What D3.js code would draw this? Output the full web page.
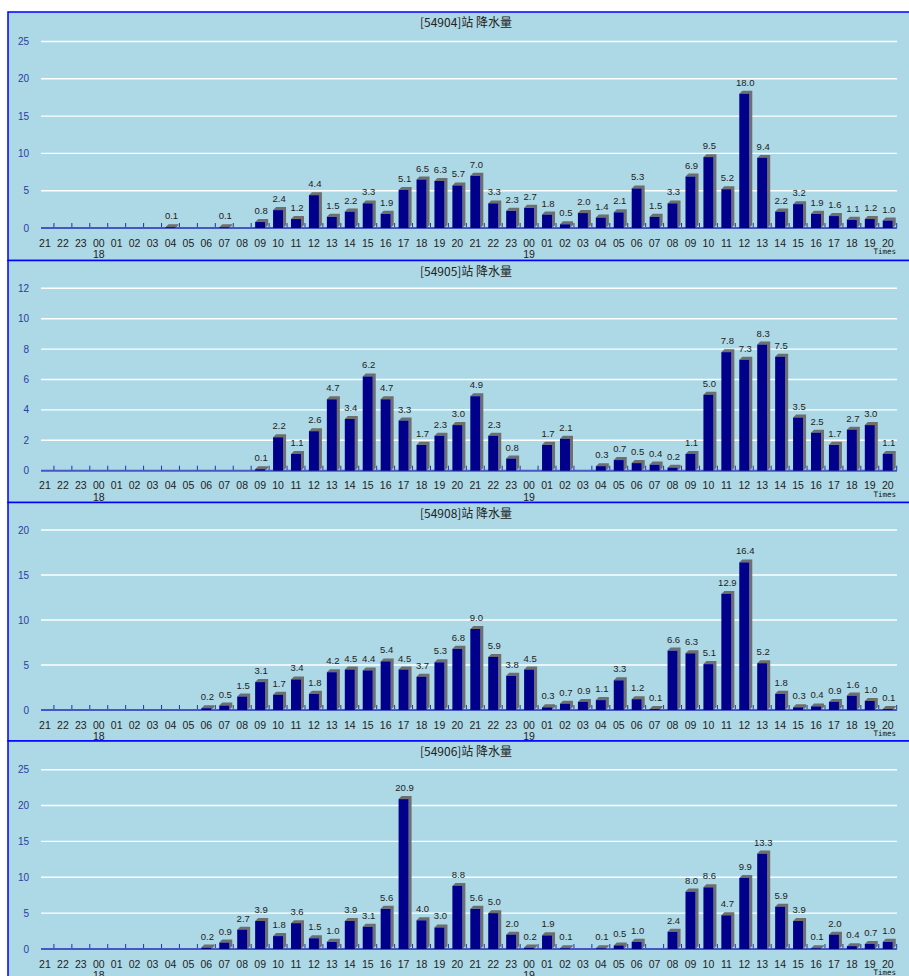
<!DOCTYPE html>
<html>
<head>
<meta charset="utf-8">
<script src="https://cdn.jsdelivr.net/npm/d3@7/dist/d3.min.js"></script>
<style>
  html, body { margin: 0; padding: 0; background: #ffffff; }
  svg { display: block; }
</style>
</head>
<body>
<script>
// Hourly precipitation at four stations, 17th 21h through 19th 20h.
const hours = ["21","22","23",
  "00","01","02","03","04","05","06","07","08","09","10","11",
  "12","13","14","15","16","17","18","19","20","21","22","23",
  "00","01","02","03","04","05","06","07","08","09","10","11",
  "12","13","14","15","16","17","18","19","20"];
const dayLabels = ["18", "19"];           // shown under each "00"

const stations = ["54904", "54905", "54908", "54906"];
const yMaxes  = [25, 12, 20, 25];
const yStepsV = [5, 2, 5, 5];

const rain54904 = [null,null,null,null,null,null,null,0.1,null,null,0.1,null,
  0.8,2.4,1.2,4.4,1.5,2.2,3.3,1.9,5.1,6.5,6.3,5.7,7.0,3.3,2.3,
  2.7,1.8,0.5,2.0,1.4,2.1,5.3,1.5,3.3,6.9,9.5,5.2,18.0,9.4,2.2,3.2,1.9,1.6,1.1,1.2,1.0];
const rain54905 = [null,null,null,null,null,null,null,null,null,null,null,null,
  0.1,2.2,1.1,2.6,4.7,3.4,6.2,4.7,3.3,1.7,2.3,3.0,4.9,2.3,0.8,
  null,1.7,2.1,null,0.3,0.7,0.5,0.4,0.2,1.1,5.0,7.8,7.3,8.3,7.5,3.5,2.5,1.7,2.7,3.0,1.1];
const rain54908 = [null,null,null,null,null,null,null,null,null,0.2,0.5,1.5,
  3.1,1.7,3.4,1.8,4.2,4.5,4.4,5.4,4.5,3.7,5.3,6.8,9.0,5.9,3.8,
  4.5,0.3,0.7,0.9,1.1,3.3,1.2,0.1,6.6,6.3,5.1,12.9,16.4,5.2,1.8,0.3,0.4,0.9,1.6,1.0,0.1];
const rain54906 = [null,null,null,null,null,null,null,null,null,0.2,0.9,2.7,
  3.9,1.8,3.6,1.5,1.0,3.9,3.1,5.6,20.9,4.0,3.0,8.8,5.6,5.0,2.0,
  0.2,1.9,0.1,null,0.1,0.5,1.0,null,2.4,8.0,8.6,4.7,9.9,13.3,5.9,3.9,0.1,2.0,0.4,0.7,1.0];
const seriesList = [rain54904, rain54905, rain54908, rain54906];

// Panel frames: top edge, top gridline and zero line (page pixels)
const frames = [
  { top: 12,    bottom: 260.5, gridTop: 41.5,  zero: 228 },
  { top: 260.5, bottom: 502.5, gridTop: 288.3, zero: 470.7 },
  { top: 502.5, bottom: 741,   gridTop: 530,   zero: 710 },
  { top: 741,   bottom: 990,   gridTop: 769.7, zero: 949 }
];

const W = 909, H = 976;
const svg = d3.select("body").append("svg").attr("width", W).attr("height", H);

const x = d3.scaleBand().domain(d3.range(hours.length)).range([36, 896.7]).padding(0);
const barW = 10, depth = 3;

const sansFont = "'Liberation Sans', Arial, sans-serif";
const cjkFont = "'Noto Sans CJK SC', 'Noto Sans', sans-serif";

stations.forEach((st, p) => {
  const f = frames[p];
  const data = seriesList[p];
  const g = svg.append("g");

  g.append("rect")
    .attr("x", 8).attr("y", f.top)
    .attr("width", 930).attr("height", f.bottom - f.top)
    .attr("fill", "#add8e6")
    .attr("stroke", "#0000ff").attr("stroke-width", 1.5);

  const y = d3.scaleLinear().domain([0, yMaxes[p]]).range([f.zero, f.gridTop]);
  const ticks = d3.range(0, yMaxes[p] + 0.001, yStepsV[p]);

  // horizontal gridlines
  g.selectAll("line.grid").data(ticks.filter(t => t > 0)).join("line")
    .attr("x1", 41).attr("x2", 897)
    .attr("y1", d => y(d)).attr("y2", d => y(d))
    .attr("stroke", "#ffffff").attr("stroke-width", 1.4);

  // y tick labels
  g.selectAll("text.ytick").data(ticks).join("text")
    .attr("x", 29).attr("y", d => y(d) + 3.5)
    .attr("text-anchor", "end")
    .attr("font-family", sansFont).attr("font-size", 10)
    .attr("fill", "#2b3c9e")
    .text(d => d);

  // title
  g.append("text")
    .attr("x", 466).attr("y", f.top + 15)
    .attr("text-anchor", "middle")
    .attr("font-family", cjkFont).attr("font-size", 12)
    .attr("fill", "#222")
    .text(`[${st}]站 降水量`);

  // category tick marks
  g.selectAll("line.xtick").data(d3.range(1, hours.length + 1)).join("line")
    .attr("x1", i => x.range()[0] + i * x.step())
    .attr("x2", i => x.range()[0] + i * x.step())
    .attr("y1", f.zero - 5).attr("y2", f.zero)
    .attr("stroke", "#2233aa").attr("stroke-width", 1);

  // axis line
  g.append("line")
    .attr("x1", 41).attr("x2", 897)
    .attr("y1", f.zero).attr("y2", f.zero)
    .attr("stroke", "#4656c4").attr("stroke-width", 2);

  // 3D bars
  const bars = data.map((v, i) => ({ v, i })).filter(d => d.v != null && d.v > 0);
  const cx = i => x(i) + x.bandwidth() / 2;

  g.selectAll("path.side").data(bars).join("path")
    .attr("d", d => {
      const x0 = cx(d.i) - barW / 2, x1 = x0 + barW;
      const yt = y(d.v), yb = y(0);
      return `M${x0},${yt} L${x0 + depth},${yt - depth} L${x1 + depth},${yt - depth} ` +
             `L${x1 + depth},${yb - depth} L${x1},${yb} L${x1},${yt} Z`;
    })
    .attr("fill", "#6f6f6f");

  g.selectAll("rect.bar").data(bars).join("rect")
    .attr("x", d => cx(d.i) - barW / 2)
    .attr("y", d => y(d.v))
    .attr("width", barW)
    .attr("height", d => y(0) - y(d.v))
    .attr("fill", "#00008b");

  // value labels
  g.selectAll("text.val").data(bars).join("text")
    .attr("x", d => cx(d.i) + 1)
    .attr("y", d => y(d.v) - 8)
    .attr("text-anchor", "middle")
    .attr("font-family", sansFont).attr("font-size", 9.5)
    .attr("fill", "#222")
    .text(d => d.v.toFixed(1));

  // hour labels
  g.selectAll("text.hour").data(hours).join("text")
    .attr("x", (d, i) => cx(i))
    .attr("y", f.zero + 18.5)
    .attr("text-anchor", "middle")
    .attr("font-family", sansFont).attr("font-size", 10.5)
    .attr("fill", "#222")
    .text(d => d);

  // day labels under midnight
  const midnights = hours.map((h, i) => i).filter(i => hours[i] === "00");
  g.selectAll("text.day").data(midnights).join("text")
    .attr("x", i => cx(i))
    .attr("y", f.zero + 30)
    .attr("text-anchor", "middle")
    .attr("font-family", sansFont).attr("font-size", 10.5)
    .attr("fill", "#222")
    .text((i, k) => dayLabels[k]);

  g.append("text")
    .attr("x", 896).attr("y", f.zero + 26)
    .attr("text-anchor", "end")
    .attr("font-family", "'DejaVu Sans Mono', monospace").attr("font-size", 7.5)
    .attr("fill", "#111")
    .text("Times");
});
</script>
</body>
</html>
